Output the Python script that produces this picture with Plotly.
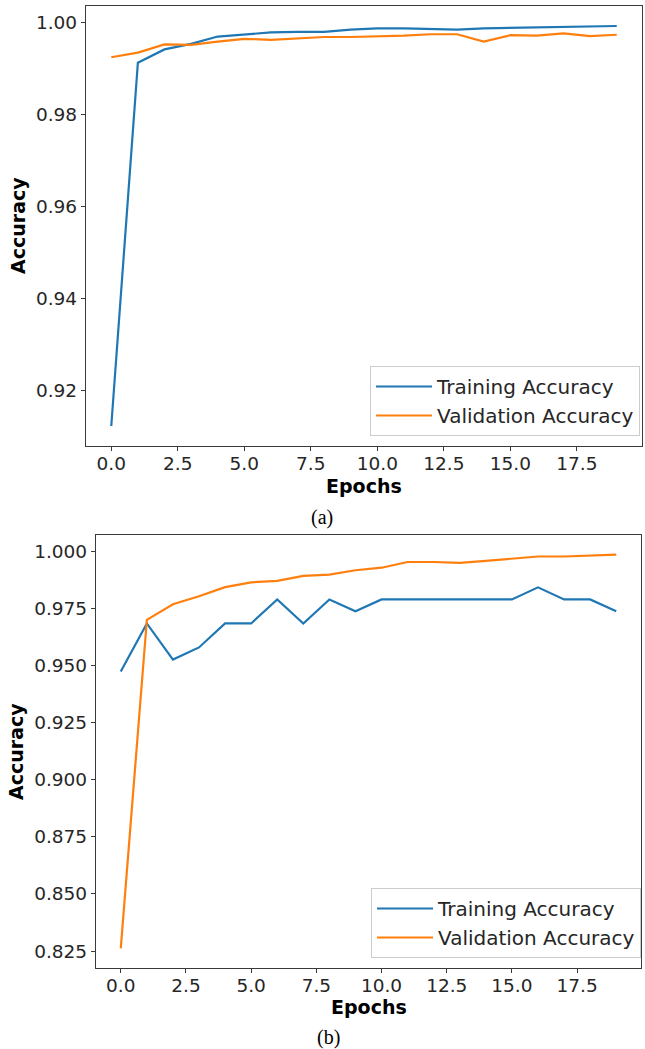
import plotly.graph_objects as go

W, H = 645, 1049

epochs = list(range(20))

top_train = [0.9122, 0.9913, 0.9942, 0.9954, 0.9970, 0.9974, 0.9979, 0.9980, 0.9980, 0.9985,
             0.9988, 0.9988, 0.9986, 0.9985, 0.9988, 0.9989, 0.9990, 0.9991, 0.9991, 0.9993]
top_val = [0.9925, 0.9935, 0.9953, 0.9952, 0.9959, 0.9965, 0.9963, 0.9966, 0.9969, 0.9969,
           0.9970, 0.9972, 0.9975, 0.9975, 0.9959, 0.9973, 0.9972, 0.9977, 0.9971, 0.9974]

bot_train = [0.9474, 0.9684, 0.9526, 0.9579, 0.9684, 0.9684, 0.9789, 0.9684, 0.9789, 0.9737,
             0.9789, 0.9789, 0.9789, 0.9789, 0.9789, 0.9789, 0.9842, 0.9789, 0.9789, 0.9737]
bot_val = [0.8262, 0.9700, 0.9768, 0.9803, 0.9843, 0.9864, 0.9870, 0.9892, 0.9898, 0.9917,
           0.9928, 0.9953, 0.9953, 0.9949, 0.9958, 0.9968, 0.9977, 0.9977, 0.9981, 0.9985]

top_yticks = [0.92, 0.94, 0.96, 0.98, 1.00]
bot_yticks = [0.825, 0.850, 0.875, 0.900, 0.925, 0.950, 0.975, 1.000]
xticks = [0.0, 2.5, 5.0, 7.5, 10.0, 12.5, 15.0, 17.5]

names = ["Training Accuracy", "Validation Accuracy"]
colors = ["#1f77b4", "#ff7f0e"]


def mrange(vals, m=0.05):
    lo, hi = min(vals), max(vals)
    d = hi - lo
    return [lo - m * d, hi + m * d]


FONT = "DejaVu Sans"
TXT = "#262626"

fig = go.Figure()
for i, ys in enumerate([top_train, top_val]):
    fig.add_trace(go.Scatter(x=epochs, y=ys, mode="lines", name=names[i],
                             line=dict(color=colors[i], width=2.2),
                             xaxis="x", yaxis="y", legend="legend",
                             legendgroup=f"a{i}"))
for i, ys in enumerate([bot_train, bot_val]):
    fig.add_trace(go.Scatter(x=epochs, y=ys, mode="lines", name=names[i],
                             line=dict(color=colors[i], width=2.2),
                             xaxis="x2", yaxis="y2", legend="legend2",
                             legendgroup=f"b{i}"))

axis_common = dict(showline=True, mirror=True, linecolor="#3a3a3a", linewidth=1.3,
                   ticks="outside", ticklen=4, tickwidth=1.3, tickcolor="#3a3a3a",
                   showgrid=False, zeroline=False,
                   tickfont=dict(family=FONT, size=18.5, color=TXT))


def px_x(a, b):
    return [a / W, b / W]


def px_y(top, bottom):
    return [1 - bottom / H, 1 - top / H]


xr = [-0.95, 19.95]

TOP_PLOT = dict(l=86, r=642, t=6, b=446)
BOT_PLOT = dict(l=96, r=641, t=535, b=968)

title_font = dict(family=FONT, size=19, color="black")


def label(text, cx, cy, font, angle=0):
    return dict(text=text, x=cx / W, y=1 - cy / H, xref="paper", yref="paper",
                xanchor="center", yanchor="middle", textangle=angle,
                showarrow=False, font=font)


legend_common = dict(xanchor="right", yanchor="bottom",
                     bgcolor="rgba(255,255,255,0.85)", bordercolor="#cccccc", borderwidth=1,
                     font=dict(family=FONT, size=20, color=TXT), tracegroupgap=0, itemwidth=56)

fig.update_layout(
    width=W, height=H, margin=dict(l=0, r=0, t=0, b=0),
    paper_bgcolor="white", plot_bgcolor="white",
    showlegend=True,
    xaxis=dict(domain=px_x(TOP_PLOT["l"], TOP_PLOT["r"]), anchor="y", range=xr, tickvals=xticks,
               ticktext=[f"{v:.1f}" for v in xticks], ticklabelstandoff=-3, **axis_common),
    yaxis=dict(domain=px_y(TOP_PLOT["t"], TOP_PLOT["b"]), anchor="x", range=mrange(top_train + top_val),
               tickvals=top_yticks, ticktext=[f"{v:.2f}" for v in top_yticks], **axis_common),
    xaxis2=dict(domain=px_x(BOT_PLOT["l"], BOT_PLOT["r"]), anchor="y2", range=xr, tickvals=xticks,
                ticktext=[f"{v:.1f}" for v in xticks], ticklabelstandoff=-3, **axis_common),
    yaxis2=dict(domain=px_y(BOT_PLOT["t"], BOT_PLOT["b"]), anchor="x2", range=mrange(bot_train + bot_val),
                tickvals=bot_yticks, ticktext=[f"{v:.3f}" for v in bot_yticks], **axis_common),
    legend=dict(x=640 / W, y=1 - 436 / H, **legend_common),
    legend2=dict(x=641 / W, y=1 - 958 / H, **legend_common),
    annotations=[
        label("<b>Epochs</b>", (TOP_PLOT["l"] + TOP_PLOT["r"]) / 2, 486, title_font),
        label("<b>Epochs</b>", (BOT_PLOT["l"] + BOT_PLOT["r"]) / 2, 1006.5, title_font),
        label("<b>Accuracy</b>", 18, 226, title_font, -90),
        label("<b>Accuracy</b>", 16, 752, title_font, -90),
        label("(a)", 322, 517, dict(family="Liberation Serif", size=20, color="black")),
        label("(b)", 328, 1037, dict(family="Liberation Serif", size=20, color="black")),
    ],
)

fig.write_html("out.html")
